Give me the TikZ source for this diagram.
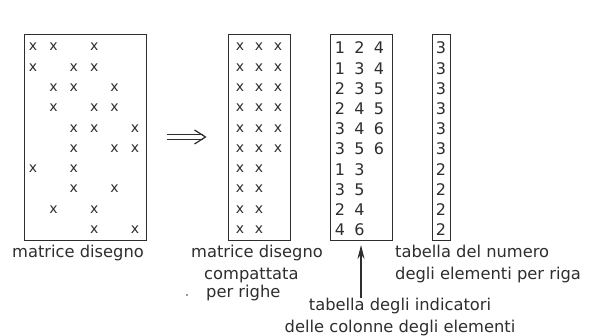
\documentclass[tikz,border=0pt]{standalone}
\usepackage{fontspec}
\setmainfont{DejaVu Sans}
\usetikzlibrary{arrows.meta,calc}
\definecolor{ink}{HTML}{2E2E2E}
\begin{document}
\begin{tikzpicture}[x=1pt,y=-1pt,
  box/.style={draw=ink, line width=1pt, minimum width=#1, minimum height=206pt, inner sep=0pt},
  xent/.style={text=ink, inner sep=0pt, font=\fontsize{14}{14}\selectfont},
  nent/.style={text=ink, inner sep=0pt, font=\fontsize{16}{16}\selectfont},
  lab/.style={text=ink, inner sep=0pt, font=\fontsize{16.3}{22}\selectfont},
  conn/.style={draw=ink, line width=1pt}
]
\useasboundingbox[fill=white] (0,0) rectangle (599,336);

% boxes
\node[box=122pt] (m1) at (85,137.5) {};
\node[box=62pt] (m2) at (259,137.5) {};
\node[box=62pt] (m3) at (361,137.5) {};
\node[box=18pt] (m4) at (441,137.5) {};

% full matrix
\foreach \r/\cs in {1/{1,2,4},2/{1,3,4},3/{2,3,5},4/{2,4,5},5/{3,4,6},6/{3,5,6},7/{1,3},8/{3,5},9/{2,4},10/{4,6}}{
  \foreach \c in \cs {
    \node[xent] (a-\r-\c) at ({33+20.4*(\c-1)},{47+20.3*(\r-1)}) {x};
  }
}
% compacted matrix
\foreach \r/\n in {1/3,2/3,3/3,4/3,5/3,6/3,7/2,8/2,9/2,10/2}{
  \foreach \c in {1,...,\n} {
    \node[xent] (b-\r-\c) at ({240+19*(\c-1)},{47+20.3*(\r-1)}) {x};
  }
  \node[nent] (d-\r) at (441,{48+20.2*(\r-1)}) {\n};
}
% column indicator table
\foreach \r/\cs in {1/{1,2,4},2/{1,3,4},3/{2,3,5},4/{2,4,5},5/{3,4,6},6/{3,5,6},7/{1,3},8/{3,5},9/{2,4},10/{4,6}}{
  \foreach \v [count=\k] in \cs {
    \node[nent] (c-\r-\k) at ({340+19.5*(\k-1)},{48+20.2*(\r-1)}) {\v};
  }
}

% double arrow from m1 to m2
\coordinate (ds) at ($(m1.east |- 0,137)+(20,0)$);
\coordinate (de) at ($(m2.west |- 0,137)+(-22,0)$);
\draw[conn] ([yshift=2.3pt]ds) -- ([yshift=2.3pt,xshift=-3pt]de);
\draw[conn] ([yshift=-2.3pt]ds) -- ([yshift=-2.3pt,xshift=-3pt]de);
\draw[conn, line width=1.2pt, line join=miter] ([xshift=-11pt,yshift=7pt]de) -- (de) -- ([xshift=-11pt,yshift=-7pt]de);

% labels
\node[lab] (l1) at (78,253) {matrice disegno};
\node[lab, anchor=west] (l2a) at (191,253) {matrice disegno};
\node[lab, anchor=west] (l2b) at (204,275) {compattata};
\node[lab, anchor=west] (l2c) at (206,293) {per righe};
\fill[ink] (187,295) circle (0.8pt);
\node[lab, align=center] (l3) at (400,317) {tabella degli indicatori\\delle colonne degli elementi};
\node[lab, align=left, anchor=west] (l4) at (395,264) {tabella del numero\\degli elementi per riga};

\coordinate (ab) at (m3.south |- 0,298);
\draw[conn, line width=1.1pt, -{Stealth[length=14pt,width=7pt]}, shorten >=4pt] (ab) -- (m3.south);
\end{tikzpicture}
\end{document}
